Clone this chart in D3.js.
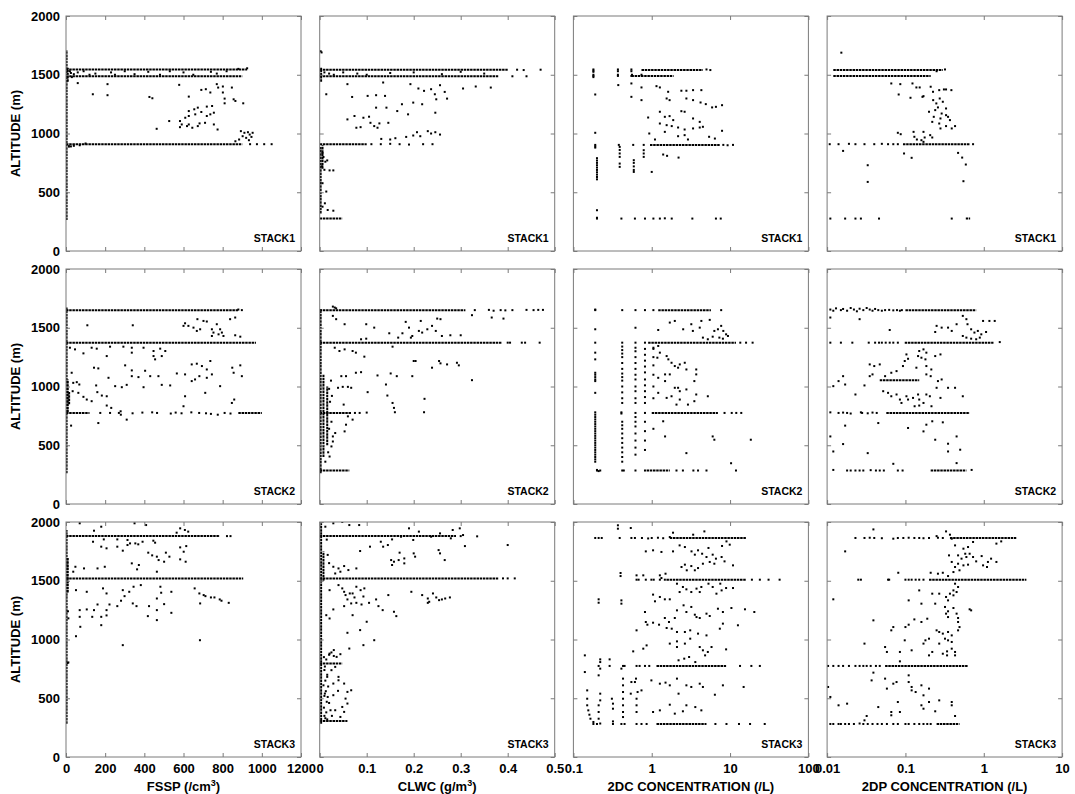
<!DOCTYPE html>
<html>
<head>
<meta charset="utf-8">
<script src="https://cdn.jsdelivr.net/npm/d3@7"></script>
<style>
  body { margin: 0; background: #fff; }
  svg { display: block; }
</style>
</head>
<body>
<div id="chart"></div>
<script>
// DATA
// runs are stretches of densely packed samples: [x1, altitude1, x2, altitude2]
// pts are single samples: [x, altitude]

const stacks = ["STACK1", "STACK2", "STACK3"];
const xTicks = [
  [0, 200, 400, 600, 800, 1000, 1200],
  [0, 0.1, 0.2, 0.3, 0.4, 0.5],
  [0.1, 1, 10, 100],
  [0.01, 0.1, 1, 10]
];
const xTickLabels = [
  ["0", "200", "400", "600", "800", "1000", "1200"],
  ["0", "0.1", "0.2", "0.3", "0.4", "0.5"],
  ["0.1", "1", "10", "100"],
  ["0.01", "0.1", "1", "10"]
];
const altTicks = [0, 500, 1000, 1500, 2000];
const xTitles = [["FSSP (/cm", "3", ")"], ["CLWC (g/m", "3", ")"], ["2DC CONCENTRATION (/L)"], ["2DP CONCENTRATION (/L)"]];

// ---- STACK1 ----
const fsspS1Runs = [[3,263,3,1710],[9,1440,9,1560],[0,1545,925,1545],[0,1488,900,1488],[0,909,900,909],[15,880,15,905]];
const fsspS1Pts = [[60,1429],[137,1334],[212,1420],[212,1326],[426,1311],[441,1300],[578,1414],[627,1314],[691,1371],[714,1377],[737,1349],[770,1420],[777,1391],[801,1400],[847,1391],[801,1349],[810,1297],[856,1291],[865,1277],[905,1257],[810,1257],[719,1229],[746,1234],[673,1220],[655,1206],[691,1183],[737,1163],[755,1177],[627,1191],[609,1134],[627,1149],[660,1163],[719,1149],[527,1106],[582,1106],[591,1077],[627,1077],[682,1086],[710,1091],[582,1054],[618,1063],[645,1049],[673,1063],[463,1040],[774,1034],[755,1077],
  [893,1020],[911,1006],[929,1011],[938,991],[902,977],[920,963],[947,971],[884,949],[934,943],[865,934],[953,1006],
  [940,909],[975,909],[1012,909],[1050,909],
  [20,1530],[30,1480],[40,1505],[25,1515],[60,1520],[90,1530],[150,1510],[120,1500],[230,1520],[250,1500],[300,1530],[350,1505],[420,1525],[480,1500],[530,1530],[600,1520],[650,1500],[740,1525],[770,1510],[820,1530],[880,1550],[925,1555],
  [25,890],[40,895],[70,900],[100,915]];

const clwcS1Runs = [[0.002,320,0.002,890],[0.003,1440,0.003,1560],[0,277,0.048,277],[0,1543,0.4,1543],[0,1487,0.38,1487],[0,909,0.1,909],[0.006,700,0.006,900]];
const clwcS1Pts = [[0.059,1420],[0.014,1334],[0.069,1311],[0.102,1320],[0.12,1326],[0.135,1434],[0.139,1320],[0.193,1420],[0.21,1383],[0.222,1363],[0.237,1377],[0.245,1334],[0.256,1411],[0.266,1354],[0.248,1291],[0.271,1297],[0.305,1383],[0.332,1400],[0.364,1391],[0.12,1220],[0.142,1220],[0.165,1191],[0.175,1249],[0.188,1163],[0.199,1263],[0.218,1249],[0.246,1177],[0.074,1149],[0.093,1134],[0.105,1143],[0.059,1120],[0.108,1091],[0.127,1086],[0.146,1091],[0.078,1049],[0.087,1054],[0.116,1063],[0.123,1049],[0.131,954],[0.15,949],[0.161,960],[0.184,971],[0.199,983],[0.207,1011],[0.214,977],[0.23,1020],[0.237,1000],[0.246,1011],[0.256,991],
  [0.006,834],[0.016,771],[0.01,691],[0.021,686],[0.029,686],[0.006,577],[0.014,506],[0.011,406],[0.006,377],[0.017,349],[0.029,343],[0.008,800],[0.012,760],[0.005,720],
  [0.42,1543],[0.434,1540],[0.47,1543],[0.44,1487],[0.41,1487],[0.11,909],[0.13,909],[0.15,912],[0.17,909],[0.19,906],[0.22,909],[0.24,909],[0.002,1700],[0.004,1690],
  [0.01,1520],[0.02,1510],[0.03,1500],[0.05,1520],[0.08,1510],[0.1,1500],[0.15,1515],[0.2,1520],[0.26,1505],[0.3,1525],[0.35,1510]];

const dcS1Runs = [[0.74,1540,4.5,1540],[0.55,1489,1.9,1489],[0.95,903,7.4,903]];
const dcS1Pts = [[0.18,1545],[0.18,1535],[0.18,1525],[0.18,1500],[0.18,1490],[0.18,1480],[0.37,1545],[0.37,1530],[0.37,1500],[0.37,1490],[0.55,1545],[0.55,1530],[0.56,1500],[0.55,1490],[0.74,1500],
  [0.19,1332],[0.19,1006],[0.19,903],[0.19,890],[0.19,880],[0.2,790],[0.2,770],[0.2,750],[0.2,730],[0.2,710],[0.2,690],[0.2,670],[0.2,650],[0.2,630],[0.2,610],[0.2,347],[0.2,276],[0.2,283],
  [0.38,903],[0.39,886],[0.39,860],[0.39,830],[0.39,801],[0.39,744],[0.39,716],[0.41,276],
  [0.58,903],[0.59,773],[0.59,750],[0.59,720],[0.59,690],[0.59,673],[0.61,276],
  [0.79,903],[0.79,858],[0.79,830],[0.79,801],[0.82,276],[1.0,673],
  [8.2,903],[9.3,900],[10.9,903],[5.0,1545],[5.6,1540],
  [1.05,276],[1.27,276],[1.47,278],[1.8,276],[3.3,276],[6.6,276],[7.6,276],
  [0.374,1412],[0.55,1426],[0.55,1312],[0.74,1392],[0.74,1284],[1.15,1403],[1.27,1392],[1.62,1355],[1.69,1284],[1.55,1298],[2.39,1364],[2.77,1364],[3.37,1369],[2.77,1298],[3.37,1284],[4.3,1369],[4.2,1264],[4.9,1250],[5.9,1222],[6.6,1227],[7.9,1241],[0.9,1136],[1.27,1185],[1.47,1142],[1.69,1148],[1.88,1114],[2.39,1190],[2.63,1185],[3.37,1128],[4.1,1099],[1.27,1085],[1.55,1071],[1.8,1063],[2.17,1051],[2.63,1034],[3.37,1043],[4.1,1051],[4.5,1057],[1.47,1014],[2.17,977],[2.63,986],[2.9,949],[5.4,972],[6.4,957],[7.9,1023],[0.93,1000],[1.1,949],
  [1.4,821],[1.57,810],[2.2,795]];

const dpS1Runs = [[0.012,1540,0.3,1540],[0.012,1489,0.21,1489],[0.093,909,0.66,909],[0.59,276,0.67,276]];
const dpS1Pts = [[0.0152,1688],[0.0108,909],[0.014,909],[0.019,912],[0.023,909],[0.03,909],[0.04,909],[0.05,912],[0.06,909],[0.07,909],[0.08,909],[0.73,909],[0.32,1545],[0.25,1530],
  [0.011,276],[0.017,276],[0.023,276],[0.027,276],[0.046,276],[0.39,276],
  [0.066,1426],[0.086,1420],[0.123,1426],[0.138,1392],[0.152,1392],[0.21,1398],[0.082,1332],[0.116,1304],[0.165,1312],[0.17,1318],[0.225,1355],[0.27,1369],[0.31,1375],[0.33,1375],[0.386,1369],[0.274,1298],[0.226,1284],[0.248,1256],[0.3,1270],[0.26,1222],[0.33,1213],[0.2,1185],[0.24,1199],[0.29,1170],[0.33,1156],[0.23,1142],[0.28,1128],[0.35,1142],[0.37,1114],[0.27,1085],[0.22,1099],[0.33,1063],[0.43,1063],[0.39,1043],[0.28,1043],[0.08,1006],[0.087,994],[0.127,1014],[0.13,972],[0.14,949],[0.16,943],[0.17,1014],[0.176,966],[0.207,986],[0.22,966],[0.17,929],
  [0.016,852],[0.096,830],[0.12,793],[0.033,730],[0.033,588],[0.47,835],[0.53,795],[0.59,736],[0.55,594]];

// ---- STACK2 ----
const fsspS2Runs = [[3,262,3,1672],[9,780,9,1060],[16,850,16,960],[0,1650,880,1650],[0,1373,970,1373],[0,775,120,775],[880,775,1000,775]];
const fsspS2Pts = [[608,1538],[625,1516],[651,1501],[668,1473],[685,1487],[702,1558],[719,1553],[745,1487],[753,1459],[770,1530],[787,1487],[796,1459],[804,1430],[838,1573],[864,1587],[864,1436],[890,1424],[779,1444],[745,1430],[671,1573],[600,1516],[109,1521],[341,1521],
  [20,1330],[46,1316],[89,1282],[131,1330],[157,1322],[225,1339],[208,1259],[293,1339],[336,1330],[336,1288],[396,1330],[447,1302],[447,1259],[455,1231],[481,1322],[507,1302],[489,1259],[143,1160],[165,1154],[302,1180],[336,1137],[370,1080],[336,1088],[404,1134],[430,1088],[472,1088],[566,1111],[608,1103],[642,1188],[668,1194],[694,1174],[737,1217],[719,1145],[745,1103],[719,1074],[642,1046],[659,1060],[681,1088],[787,1003],[849,1160],[856,1117],[890,1180],[898,1088],[711,946],[608,917],[600,832],[160,952],[183,923],[208,917],[154,1009],[217,1074],[251,1003],[285,994],[310,1014],[396,994],[489,1014],[532,1009],[208,838],[231,818],[279,789],[310,718],[165,689],[131,875],[29,1117],[37,1031],[55,1037],[68,1017],[34,960],[63,946],[89,912],[106,889],[26,667],[847,860],[859,889],
  [175,775],[225,775],[270,775],[280,760],[340,772],[390,778],[440,780],[465,775],[535,770],[560,778],[590,772],[640,780],[680,775],[715,772],[740,767],[775,760],[810,775],[840,770],[898,1650],[880,1655]];

const clwcS2Runs = [[0.002,262,0.002,1658],[0.008,400,0.008,1100],[0.016,500,0.016,1000],[0,1650,0.31,1650],[0,1373,0.387,1373],[0,775,0.067,775],[0,285,0.063,285]];
const clwcS2Pts = [[0.028,1601],[0.035,1573],[0.053,1530],[0.099,1530],[0.116,1501],[0.148,1453],[0.176,1453],[0.183,1550],[0.19,1501],[0.197,1430],[0.211,1473],[0.215,1558],[0.218,1459],[0.229,1487],[0.239,1516],[0.247,1473],[0.25,1578],[0.257,1573],[0.26,1430],[0.278,1436],[0.3,1436],[0.366,1587],[0.391,1578],[0.324,1607],[0.167,1416],[0.194,1416],
  [0.032,1330],[0.042,1302],[0.053,1316],[0.07,1302],[0.077,1288],[0.088,1402],[0.099,1407],[0.095,1254],[0.155,1339],[0.2,1217],[0.204,1217],[0.239,1160],[0.254,1217],[0.257,1197],[0.271,1188],[0.292,1202],[0.296,1180],[0.324,1054],[0.197,1088],[0.151,1111],[0.164,1088],[0.141,1017],[0.123,1094],[0.088,1122],[0.077,1117],[0.056,1088],[0.046,1088],[0.102,952],[0.144,923],[0.155,860],[0.158,818],[0.16,781],[0.223,895],[0.222,781],[0.039,989],[0.049,997],[0.06,997],[0.067,989],[0.051,846],[0.06,746],[0.07,718],[0.056,675],[0.053,618],[0.028,575],[0.033,604],[0.025,490],[0.021,404],[0.028,532],
  [0.024,1050],[0.02,980],[0.026,920],[0.022,870],[0.025,700],[0.02,640],[0.018,440],[0.012,360],
  [0.33,1650],[0.36,1652],[0.37,1645],[0.385,1650],[0.395,1648],[0.41,1650],[0.44,1652],[0.455,1650],[0.465,1652],[0.475,1652],[0.4,1373],[0.405,1373],[0.43,1373],[0.437,1373],[0.468,1373],[0.075,775],[0.085,775],[0.1,778],[0.032,1672],[0.028,1680],[0.035,1665]];

const dcS2Runs = [[1.21,1650,5.7,1650],[0.9,1373,11.9,1373],[1.0,775,7,775],[0.86,285,1.7,285]];
const dcS2Pts = [[0.19,1650],[0.19,1655],[0.19,1373],[0.19,1487],[0.19,1288],[0.19,1231],[0.19,1117],[0.19,1100],[0.19,1080],[0.19,1060],[0.19,1046],[0.19,946],[0.19,780],[0.19,760],[0.19,740],[0.19,720],[0.19,700],[0.19,680],[0.19,660],[0.19,640],[0.19,620],[0.19,600],[0.19,580],[0.19,560],[0.19,540],[0.19,520],[0.19,500],[0.19,480],[0.19,460],[0.19,440],[0.19,420],[0.19,400],[0.19,380],[0.19,360],[0.2,285],[0.2,290],[0.21,280],[0.22,285],
  [0.42,1650],[0.42,1373],[0.42,1340],[0.42,1310],[0.42,1280],[0.42,1250],[0.42,1200],[0.42,1150],[0.42,1110],[0.42,1080],[0.42,1050],[0.42,1000],[0.42,950],[0.42,900],[0.42,860],[0.41,780],[0.41,770],[0.42,700],[0.42,670],[0.42,640],[0.42,600],[0.42,560],[0.42,520],[0.42,480],[0.42,440],[0.42,400],[0.42,360],[0.42,285],[0.44,285],
  [0.62,1650],[0.62,1500],[0.62,1373],[0.62,1330],[0.62,1300],[0.62,1250],[0.62,1200],[0.62,1150],[0.62,1100],[0.62,1060],[0.62,1000],[0.62,960],[0.62,900],[0.62,860],[0.62,775],[0.62,740],[0.62,700],[0.62,660],[0.62,600],[0.62,540],[0.62,480],[0.62,420],[0.62,285],
  [0.82,1650],[0.82,1373],[0.82,1320],[0.82,1270],[0.82,1220],[0.82,1170],[0.82,1120],[0.82,1060],[0.82,1010],[0.82,960],[0.82,910],[0.82,860],[0.82,775],[0.82,700],[0.82,620],[0.82,540],[0.82,460],[0.82,285],
  [1.05,1650],[1.05,1320],[1.05,1250],[1.05,1180],[1.05,1100],[1.05,1000],[1.05,900],[1.05,640],
  [1.21,1481],[1.7,1544],[1.97,1558],[2.52,1487],[3.2,1530],[3.35,1473],[4.1,1501],[4.3,1558],[5.5,1567],[6.3,1473],[7.0,1487],[7.7,1516],[8.2,1473],[8.9,1444],[9.4,1430],[6.0,1424],[5.2,1402],[4.5,1416],[7.3,1416],[8.1,1407],[1.05,1330],[1.21,1345],[1.27,1288],[1.18,1245],[1.55,1259],[1.63,1231],[1.79,1202],[1.97,1174],[2.17,1160],[2.28,1188],[2.64,1202],[2.77,1145],[3.7,1103],[1.7,1103],[1.21,1074],[1.48,1046],[1.97,989],[2.17,989],[2.28,960],[2.77,975],[3.5,1046],[3.7,1145],[1.48,1103],[1.21,946],[1.55,903],[1.79,917],[2.28,889],[2.9,846],[3.5,875],[3.7,932],[5.2,917],[2.07,846],[1.4,704],[1.48,575],[2.77,433],[6.0,575],[6.3,547],[10.3,347],[11.9,285],[18.4,547],
  [7.7,1650],[13.5,1373],[16,1373],[19.4,1373],[8.5,775],[10.5,775],[12,775],[13.9,775],[2.07,285],[2.5,285],[3.4,285],[3.9,285],[5.0,285]];

const dpS2Runs = [[0.1,1650,0.8,1650],[0.098,1373,1.33,1373],[0.047,1054,0.15,1054],[0.057,775,0.66,775],[0.21,285,0.6,285]];
const dpS2Pts = [[0.011,1655],[0.012,1645],[0.013,1665],[0.015,1650],[0.016,1660],[0.018,1645],[0.02,1668],[0.022,1655],[0.024,1640],[0.026,1662],[0.029,1650],[0.032,1668],[0.035,1655],[0.038,1645],[0.041,1660],[0.045,1650],[0.05,1645],[0.055,1650],[0.062,1652],[0.07,1648],[0.078,1650],[0.085,1645],[0.09,1650],
  [0.011,1373],[0.015,1373],[0.021,1373],[0.034,1373],[0.041,1373],[0.046,1373],[0.05,1373],[0.056,1373],[0.063,1373],[0.07,1373],[0.08,1373],[1.6,1378],
  [0.011,780],[0.014,775],[0.016,778],[0.018,775],[0.02,770],[0.027,780],[0.028,775],[0.033,772],[0.038,778],[0.043,775],
  [0.012,290],[0.018,285],[0.02,285],[0.023,285],[0.026,285],[0.029,285],[0.036,288],[0.042,285],[0.047,285],[0.053,285],[0.08,285],[0.092,285],[0.7,290],
  [0.026,1573],[0.011,1587],[0.063,1481],[0.24,1464],[0.25,1516],[0.29,1501],[0.35,1501],[0.39,1473],[0.45,1530],[0.54,1601],[0.6,1573],[0.62,1530],[0.69,1487],[0.76,1459],[0.84,1473],[0.93,1444],[0.98,1558],[1.07,1464],[1.18,1558],[1.38,1558],[0.89,1416],[0.8,1402],[0.69,1407],[0.6,1416],[0.54,1430],[0.15,1302],[0.17,1316],[0.185,1288],[0.145,1259],[0.16,1245],[0.18,1231],[0.103,1273],[0.108,1236],[0.098,1217],[0.093,1174],[0.138,1160],[0.185,1174],[0.214,1145],[0.24,1259],[0.28,1273],[0.185,1103],[0.21,1088],[0.077,1131],[0.066,1117],[0.055,1088],[0.035,1188],[0.04,1174],[0.047,1188],[0.035,1088],[0.016,1088],[0.014,1046],[0.017,1017],[0.012,1003],[0.023,932],[0.03,1009],[0.038,1103],[0.052,960],[0.06,946],[0.066,917],[0.077,932],[0.085,889],[0.089,860],[0.103,917],[0.108,889],[0.125,903],[0.145,932],[0.15,889],[0.17,860],[0.185,932],[0.205,917],[0.131,832],[0.15,838],[0.215,832],[0.28,903],[0.35,989],[0.43,989],[0.54,917],[0.26,1046],[0.29,1060],[0.25,989],[0.045,689],[0.108,647],[0.17,618],[0.185,675],[0.22,704],[0.3,695],[0.017,667],[0.011,575],[0.016,510],[0.012,447],[0.033,433],[0.24,547],[0.35,513],[0.35,447],[0.45,575],[0.5,462],[0.45,348],[0.07,342]];

// ---- STACK3 ----
const fsspS3Runs = [[3,284,3,1932],[9,1400,9,1700],[0,1880,785,1880],[0,1520,905,1520]];
const fsspS3Pts = [[70,1989],[180,1960],[350,1989],[409,1974],[143,1926],[583,1946],[607,1932],[624,1918],[565,1909],[138,1832],[193,1852],[262,1852],[314,1847],[327,1818],[391,1832],[446,1841],[455,1824],[180,1790],[207,1776],[262,1790],[314,1804],[369,1810],[354,1818],[290,1756],[583,1784],[614,1795],[601,1747],[420,1739],[440,1716],[464,1705],[510,1739],[528,1705],[583,1682],[611,1662],[473,1676],[501,1662],[336,1648],[363,1597],[372,1634],[48,1619],[37,1577],[92,1605],[161,1605],[198,1619],[464,1577],
  [51,1420],[106,1406],[189,1435],[207,1392],[290,1420],[299,1369],[345,1449],[323,1406],[382,1463],[482,1449],[486,1398],[464,1349],[501,1301],[538,1406],[657,1435],[681,1392],[703,1378],[712,1369],[740,1358],[758,1358],[785,1341],[794,1330],[831,1312],[685,1307],[464,1250],[424,1284],[360,1284],[341,1307],[281,1330],[262,1284],[222,1298],[161,1298],[106,1256],[70,1250],[207,1250],[143,1250],[180,1193],[134,1193],[70,1193],[207,1205],[418,1199],[464,1165],[538,1227],[73,1108],[51,1028],[180,1122],[290,952],[684,994],
  [822,1880],[840,1880],[10,1240],[12,1180],[8,800],[12,805]];

const clwcS3Runs = [[0.003,284,0.003,1989],[0.008,1500,0.008,1750],[0,1880,0.29,1880],[0,1520,0.38,1520],[0,795,0.048,795],[0,307,0.059,307]];
const clwcS3Pts = [[0.029,1989],[0.048,2000],[0.063,1974],[0.084,1974],[0.19,1946],[0.211,1918],[0.237,1875],[0.256,1903],[0.279,1861],[0.283,1932],[0.305,1889],[0.298,1946],[0.199,1847],[0.173,1875],[0.154,1852],[0.13,1832],[0.135,1790],[0.145,1804],[0.107,1790],[0.086,1753],[0.17,1739],[0.2,1733],[0.152,1676],[0.158,1662],[0.168,1676],[0.18,1690],[0.18,1648],[0.203,1705],[0.154,1634],[0.253,1761],[0.256,1733],[0.266,1676],[0.309,1795],[0.4,1804],[0.029,1619],[0.04,1605],[0.052,1625],[0.061,1591],[0.078,1605],[0.033,1562],[0.044,1577],
  [0.021,1420],[0.04,1463],[0.048,1435],[0.052,1406],[0.055,1378],[0.064,1392],[0.07,1392],[0.074,1358],[0.059,1341],[0.078,1449],[0.087,1420],[0.095,1435],[0.093,1366],[0.052,1284],[0.067,1307],[0.078,1312],[0.089,1298],[0.105,1312],[0.12,1341],[0.125,1284],[0.146,1378],[0.134,1250],[0.158,1236],[0.163,1199],[0.195,1406],[0.218,1378],[0.23,1349],[0.233,1321],[0.241,1392],[0.248,1358],[0.254,1335],[0.26,1341],[0.267,1349],[0.277,1358],[0.23,1312],[0.1,1151],[0.086,1080],[0.059,1057],[0.07,1207],[0.021,1179],[0.014,1207],[0.029,1256],[0.116,994],[0.093,952],[0.063,923],[0.044,875],[0.036,852],
  [0.021,880],[0.03,860],[0.052,625],[0.059,554],[0.067,568],[0.055,497],[0.048,426],[0.052,384],[0.059,455],[0.04,682],[0.029,625],[0.025,739],[0.033,767],[0.04,653],[0.044,341],[0.033,398],[0.017,511],[0.023,398],[0.011,540],[0.016,682],[0.029,526],[0.039,563],[0.02,460],[0.026,350],[0.018,600],
  [0.01,350],[0.014,380],[0.009,420],[0.015,470],[0.01,520],[0.013,560],[0.008,610],[0.012,650],[0.016,700],[0.01,740],[0.014,830],[0.02,870],[0.025,890],[0.03,910],[0.012,330],[0.016,320],[0.011,770],[0.009,850],
  [0.3,1880],[0.335,1878],[0.39,1520],[0.4,1520],[0.415,1520],[0.017,1720],[0.02,1650],[0.015,1850],[0.012,1960]];

const dcS3Runs = [[1.7,1864,16,1864],[1.54,1509,16,1509],[1.15,775,8.9,775],[1.15,281,5,281]];
const dcS3Pts = [[0.19,1864],[0.21,1864],[0.23,1864],[0.39,1864],[0.55,1864],[0.61,1864],[0.75,1864],[0.9,1860],[1.0,1864],[1.2,1866],[1.4,1862],
  [0.64,1509],[0.68,1509],[0.84,1509],[0.99,1509],[1.06,1509],[1.27,1509],[1.47,1509],[19,1509],[24,1509],[31,1509],[42.9,1509],
  [0.21,775],[0.29,775],[0.43,775],[0.45,775],[0.64,775],[0.7,775],[0.82,775],[0.93,775],[13.4,775],[18.7,775],[24,775],
  [0.18,281],[0.2,281],[0.22,285],[0.32,281],[0.41,281],[0.45,281],[0.64,281],[0.74,281],[0.86,281],[6.5,281],[9,281],[13,281],[18,281],[27.7,281],
  [0.37,1972],[0.37,1943],[0.54,1949],[1.87,1909],[3.38,1892],[4.7,1920],[0.84,1750],[1.04,1759],[1.33,1745],[1.87,1750],[2.27,1801],[2.65,1787],[3.22,1750],[3.55,1722],[3.9,1759],[4.4,1730],[5.0,1702],[6.0,1722],[6.6,1688],[7.8,1702],[8.5,1665],[6.3,1645],[5.5,1660],[4.5,1645],[3.9,1608],[3.55,1589],[3.2,1625],[2.65,1637],[2.4,1617],[2.8,1589],[10.9,1631],[9.9,1807],[9.0,1835],[7.9,1796],[5.3,1779],[1.7,1872],[0.64,1546],[0.78,1546],[1.5,1560],[1.27,1546],[1.33,1523],
  [2.1,1475],[2.5,1447],[2.27,1404],[2.77,1427],[3.2,1404],[3.73,1433],[4.1,1404],[4.3,1447],[5.3,1475],[6.0,1447],[6.7,1390],[7.8,1418],[8.9,1438],[10.9,1438],[7.5,1475],[1.04,1382],[1.27,1362],[1.47,1342],[1.7,1342],[1.1,1325],[0.82,1234],[0.64,1078],[0.84,1149],[0.88,1126],[1.04,1143],[1.24,1126],[1.55,1098],[1.66,1149],[1.47,1183],[1.97,1183],[2.1,1248],[2.55,1291],[2.77,1234],[3.2,1277],[3.55,1211],[3.73,1191],[4.1,1183],[5.0,1220],[5.5,1200],[7.0,1262],[8.1,1234],[10.4,1268],[15.5,1257],[20.4,1234],[1.8,1092],[2.1,1064],[2.65,1064],[3.1,1078],[3.9,1050],[5.0,1035],[7.4,1092],[8.1,1135],[12.6,1121],[0.86,950],[0.78,922],[0.58,899],[1.7,965],[2.1,984],[2.1,936],[2.65,965],[3.1,1007],[4.1,936],[4.5,908],[5.2,894],[5.8,936],[4.8,865],[2.6,837],[3.0,851],[8.9,916],[3.6,808],[2.2,823],
  [0.55,638],[0.74,567],[0.99,652],[1.27,624],[1.5,633],[1.7,610],[2.1,667],[2.2,539],[2.77,610],[3.2,596],[4.1,624],[4.5,596],[6.4,530],[8.1,610],[14.9,596],[1.27,397],[1.7,445],[1.97,369],[2.5,389],[2.77,440],[3.6,425],[4.3,397],[1.04,383],[0.64,383],[0.64,440],[0.64,496],[0.66,553],[0.63,667],[0.43,667],[0.43,610],[0.43,553],[0.43,496],[0.43,440],[0.43,383],[0.43,340],[0.41,752],[0.22,808],[0.22,752],[0.21,695],[0.22,539],[0.22,482],[0.21,440],[0.21,383],[0.21,326],[0.32,454],[0.32,411],[0.31,496],[0.14,865],[0.14,723],[0.15,567],[0.15,496],[0.15,440],[0.155,397],[0.16,360],[0.165,326],[0.18,298],[0.32,303],[0.54,539],[0.61,638],[0.29,831],[0.22,831],[0.21,1342],[0.21,1313],[0.41,1333],[0.41,1305],[0.4,1566],[0.4,1540]];

const dpS3Runs = [[0.37,1864,2.6,1864],[0.2,1509,3.5,1509],[0.055,775,0.63,775],[0.25,281,0.49,281]];
const dpS3Pts = [[0.023,1864],[0.03,1864],[0.035,1866],[0.04,1864],[0.05,1862],[0.08,1864],[0.094,1864],[0.11,1866],[0.13,1864],[0.15,1864],[0.17,1862],[0.2,1864],[0.26,1866],[0.3,1864],
  [0.025,1509],[0.027,1509],[0.06,1509],[0.062,1509],[0.1,1509],[0.11,1509],[0.12,1509],[0.135,1509],[0.15,1509],[0.17,1509],
  [0.0103,775],[0.012,775],[0.014,775],[0.016,775],[0.019,775],[0.023,775],[0.026,775],[0.029,775],[0.032,775],[0.036,775],[0.042,775],[0.047,775],
  [0.011,281],[0.012,281],[0.014,281],[0.015,281],[0.017,281],[0.019,281],[0.022,281],[0.026,285],[0.029,281],[0.033,281],[0.038,281],[0.044,281],[0.05,281],[0.058,281],[0.07,281],[0.08,281],[0.1,281],[0.11,281],[0.13,281],[0.15,281],[0.17,281],[0.19,281],[0.21,281],
  [0.039,1937],[0.33,1920],[0.37,1892],[0.39,1858],[0.07,1858],[0.25,1880],[0.73,1830],[1.45,1816],[1.67,1835],[0.017,1750],[0.43,1801],[0.55,1773],[0.63,1787],[0.47,1716],[0.58,1730],[0.52,1688],[0.6,1702],[0.66,1730],[0.73,1702],[0.8,1665],[0.63,1637],[0.55,1631],[0.47,1645],[0.43,1617],[0.49,1589],[0.41,1574],[0.35,1540],[0.3,1568],[0.36,1716],[0.39,1660],[0.98,1631],[1.13,1660],[0.94,1710],[1.24,1688],[1.45,1660],[1.1,1617],[0.081,1568],[0.21,1568],[0.26,1560],
  [0.43,1475],[0.47,1447],[0.41,1418],[0.45,1404],[0.37,1390],[0.41,1376],[0.33,1362],[0.35,1333],[0.15,1418],[0.22,1390],[0.27,1390],[0.11,1333],[0.16,1305],[0.24,1305],[0.32,1277],[0.35,1240],[0.41,1268],[0.66,1257],[0.69,1248],[0.33,1220],[0.35,1191],[0.45,1220],[0.47,1183],[0.47,1149],[0.49,1106],[0.47,1078],[0.19,1177],[0.16,1149],[0.13,1171],[0.11,1126],[0.1,1106],[0.07,1106],[0.066,1078],[0.039,1163],[0.012,1342],[0.25,1078],[0.27,1064],[0.3,1050],[0.35,1064],[0.39,1035],[0.35,993],[0.39,979],[0.32,1007],[0.27,965],[0.2,1007],[0.18,993],[0.17,965],[0.39,922],[0.43,894],[0.34,899],[0.3,879],[0.34,865],[0.43,865],[0.22,894],[0.2,865],[0.12,908],[0.098,993],[0.085,894],[0.055,936],[0.058,894],[0.03,965],[0.085,814],
  [0.039,718],[0.037,652],[0.055,667],[0.07,624],[0.077,638],[0.058,582],[0.11,695],[0.11,638],[0.12,596],[0.12,567],[0.16,610],[0.135,553],[0.17,525],[0.2,582],[0.16,440],[0.2,468],[0.27,482],[0.39,468],[0.39,440],[0.43,349],[0.24,389],[0.17,411],[0.08,468],[0.085,383],[0.066,383],[0.066,355],[0.045,425],[0.032,349],[0.03,312],[0.014,440],[0.018,454],[0.011,511],[0.0103,596]];

const panels = [
  {row: 0, col: 0, runs: fsspS1Runs, pts: fsspS1Pts},
  {row: 0, col: 1, runs: clwcS1Runs, pts: clwcS1Pts},
  {row: 0, col: 2, runs: dcS1Runs, pts: dcS1Pts},
  {row: 0, col: 3, runs: dpS1Runs, pts: dpS1Pts},
  {row: 1, col: 0, runs: fsspS2Runs, pts: fsspS2Pts},
  {row: 1, col: 1, runs: clwcS2Runs, pts: clwcS2Pts},
  {row: 1, col: 2, runs: dcS2Runs, pts: dcS2Pts},
  {row: 1, col: 3, runs: dpS2Runs, pts: dpS2Pts},
  {row: 2, col: 0, runs: fsspS3Runs, pts: fsspS3Pts},
  {row: 2, col: 1, runs: clwcS3Runs, pts: clwcS3Pts},
  {row: 2, col: 2, runs: dcS3Runs, pts: dcS3Pts},
  {row: 2, col: 3, runs: dpS3Runs, pts: dpS3Pts}
];

// LAYOUT
const size = 235, left0 = 66, top0 = 16, colStep = 253.7, rowStep = 253;
const font = "'Liberation Sans', Arial, Helvetica, sans-serif";
const frameColour = "#7a7a7a";

const xScales = [
  d3.scaleLinear().domain([0, 1200]),
  d3.scaleLinear().domain([0, 0.5]),
  d3.scaleLog().domain([0.1, 100]),
  d3.scaleLog().domain([0.01, 10])
].map(s => s.range([0, size]));
const y = d3.scaleLinear().domain([0, 2000]).range([size, 0]);

const svg = d3.select("#chart")
  .append("svg")
    .attr("width", 1075)
    .attr("height", 794);

function styleAxis(g) {
  g.select(".domain").remove();
  g.selectAll("line").attr("stroke", frameColour);
  g.selectAll("text")
    .attr("fill", "#000")
    .attr("font-family", font)
    .attr("font-weight", "bold")
    .attr("font-size", 13);
}

panels.forEach((p, i) => {
  const x = xScales[p.col];
  const g = svg.append("g")
    .attr("transform", `translate(${left0 + p.col * colStep}, ${top0 + p.row * rowStep})`);

  g.append("clipPath").attr("id", "clip" + i)
    .append("rect").attr("width", size).attr("height", size);

  const plot = g.append("g").attr("clip-path", `url(#clip${i})`);

  // dense stretches: drawn as tightly packed dots
  plot.selectAll("line")
    .data(p.runs)
    .enter()
    .append("line")
      .attr("x1", d => x(Math.max(d[0], x.domain()[0])))
      .attr("y1", d => y(d[1]))
      .attr("x2", d => x(Math.max(d[2], x.domain()[0])))
      .attr("y2", d => y(d[3]))
      .attr("stroke", "#000")
      .attr("stroke-width", 2)
      .attr("stroke-dasharray", "2.5,0.7");

  plot.selectAll("rect")
    .data(p.pts)
    .enter()
    .append("rect")
      .attr("x", d => x(d[0]) - 1)
      .attr("y", d => y(d[1]) - 1)
      .attr("width", 2)
      .attr("height", 2)
      .attr("fill", "#000");

  // axes with inward ticks on all four sides
  g.append("g")
    .attr("transform", `translate(0, ${size})`)
    .call(d3.axisBottom(x).tickValues(xTicks[p.col]).tickSize(-4).tickPadding(7)
      .tickFormat((d, j) => p.row === 2 ? xTickLabels[p.col][j] : ""))
    .call(styleAxis);
  g.append("g")
    .call(d3.axisTop(x).tickValues(xTicks[p.col]).tickSize(-4).tickFormat(""))
    .call(styleAxis);
  g.append("g")
    .call(d3.axisLeft(y).tickValues(altTicks).tickSize(-4).tickPadding(6)
      .tickFormat(d => p.col === 0 ? d : ""))
    .call(styleAxis);
  g.append("g")
    .attr("transform", `translate(${size}, 0)`)
    .call(d3.axisRight(y).tickValues(altTicks).tickSize(-4).tickFormat(""))
    .call(styleAxis);

  g.append("rect")
    .attr("width", size)
    .attr("height", size)
    .attr("fill", "none")
    .attr("stroke", frameColour)
    .attr("stroke-width", 1);

  g.append("text")
    .attr("x", size - 6)
    .attr("y", size - 9)
    .attr("text-anchor", "end")
    .attr("font-family", font)
    .attr("font-weight", "bold")
    .attr("font-size", 10.5)
    .text(stacks[p.row]);

  if (p.col === 0) {
    g.append("text")
      .attr("transform", `translate(${15 - left0}, ${size / 2}) rotate(-90)`)
      .attr("text-anchor", "middle")
      .attr("dy", "0.35em")
      .attr("font-family", font)
      .attr("font-weight", "bold")
      .attr("font-size", 13)
      .text("ALTITUDE (m)");
  }
});

xTitles.forEach((parts, c) => {
  const t = svg.append("text")
    .attr("x", left0 + c * colStep + size / 2)
    .attr("y", 791)
    .attr("text-anchor", "middle")
    .attr("font-family", font)
    .attr("font-weight", "bold")
    .attr("font-size", 13);
  t.append("tspan").text(parts[0]);
  if (parts.length > 1) {
    t.append("tspan").attr("dy", -5).attr("font-size", 9).text(parts[1]);
    t.append("tspan").attr("dy", 5).text(parts[2]);
  }
});
</script>
</body>
</html>
